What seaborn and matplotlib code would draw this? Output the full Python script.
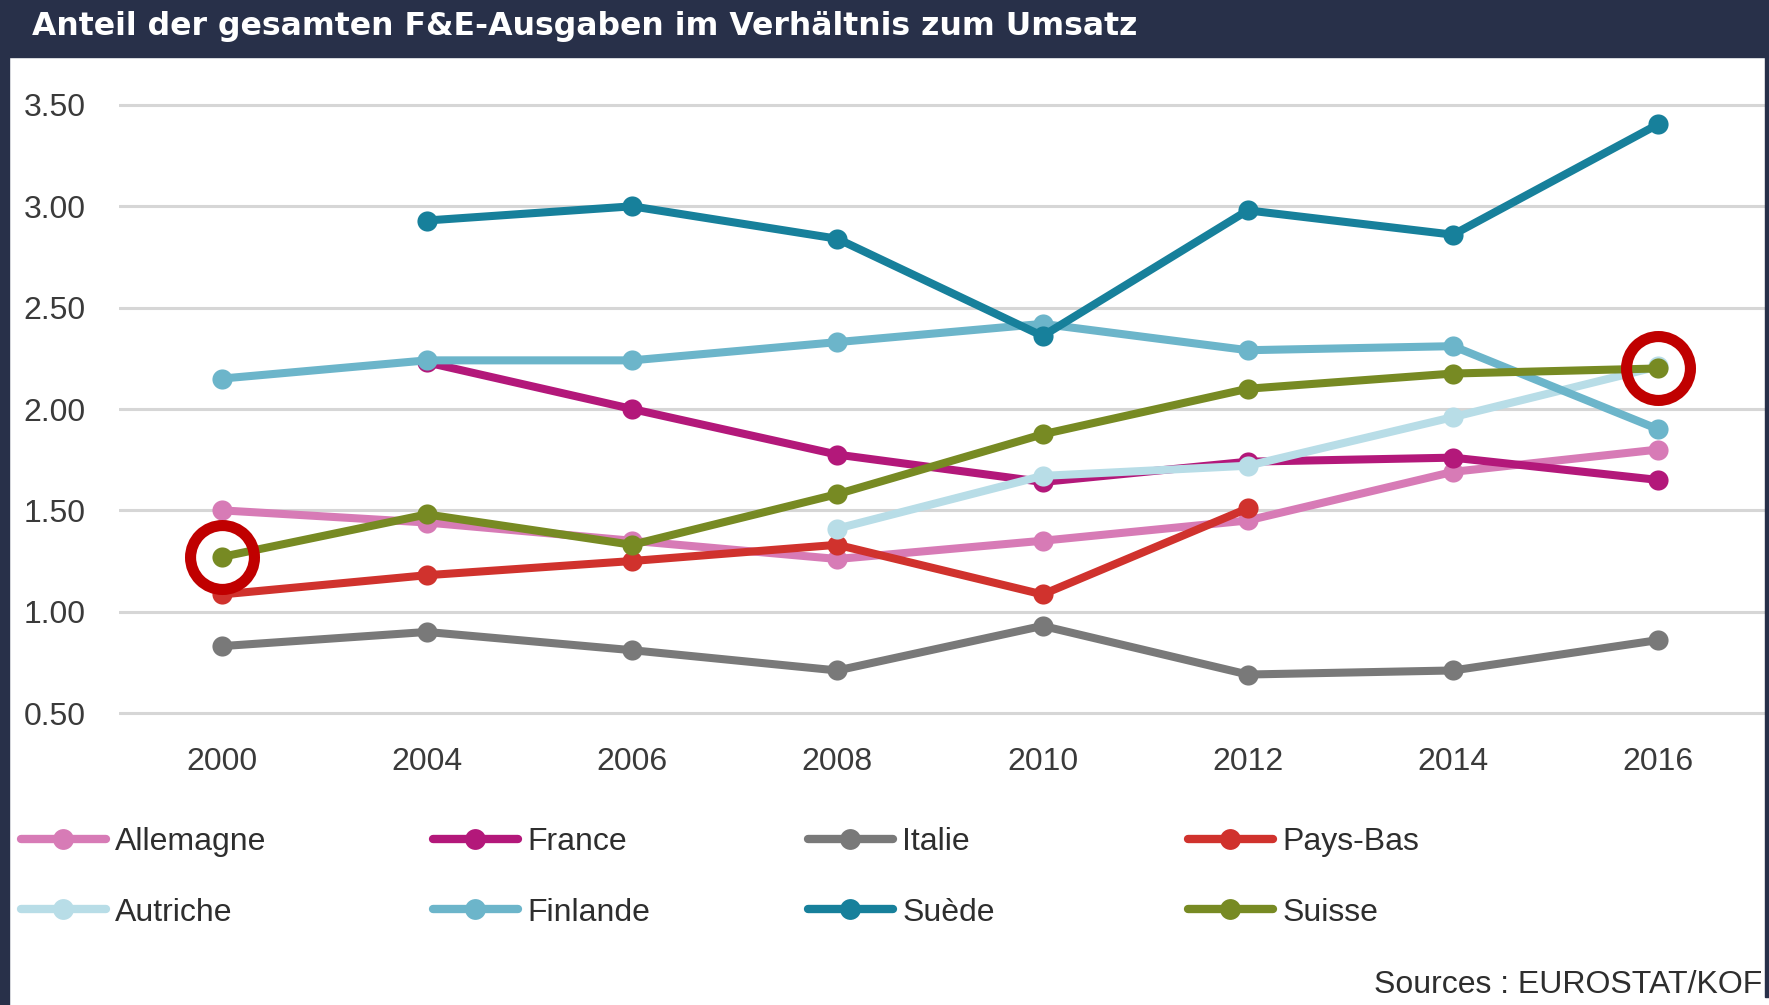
import numpy as np
import pandas as pd
import matplotlib
matplotlib.use('Agg')
import matplotlib.pyplot as plt
import seaborn as sns
from matplotlib.lines import Line2D
from matplotlib.patches import Rectangle

years = ['2000', '2004', '2006', '2008', '2010', '2012', '2014', '2016']

allemagne = [1.50, 1.44, 1.35, 1.26, 1.35, 1.45, 1.69, 1.80]
france = [np.nan, 2.23, 2.00, 1.775, 1.64, 1.74, 1.76, 1.65]
italie = [0.83, 0.90, 0.81, 0.71, 0.93, 0.69, 0.71, 0.86]
pays_bas = [1.085, 1.18, 1.25, 1.33, 1.085, 1.51, np.nan, np.nan]
autriche = [np.nan, np.nan, np.nan, 1.41, 1.67, 1.72, 1.96, 2.21]
finlande = [2.15, 2.24, 2.24, 2.33, 2.42, 2.29, 2.31, 1.90]
suede = [np.nan, 2.93, 3.00, 2.84, 2.36, 2.98, 2.86, 3.405]
suisse = [1.27, 1.48, 1.33, 1.58, 1.875, 2.10, 2.175, 2.20]

countries = ['Allemagne', 'France', 'Italie', 'Pays-Bas',
             'Autriche', 'Finlande', 'Suède', 'Suisse']
series = [allemagne, france, italie, pays_bas, autriche, finlande, suede, suisse]
colors = ['#d77bb6', '#b3187a', '#797979', '#d0322d',
          '#b8dde7', '#6cb5ca', '#17809b', '#778a23']

title = 'Anteil der gesamten F&E-Ausgaben im Verhältnis zum Umsatz'
source = 'Sources : EUROSTAT/KOF'

sns.set_style('white')
plt.rcParams['font.family'] = ['Liberation Sans', 'DejaVu Sans']

W, H = 1769, 1005
fig = plt.figure(figsize=(W / 100, H / 100), dpi=100)
fig.patch.set_facecolor('white')

# header bar + dark left/right edges
navy = '#283049'
fig.patches.append(Rectangle((0, 1 - 57 / H), 1, 57 / H, transform=fig.transFigure,
                             color=navy, zorder=0))
fig.patches.append(Rectangle((0, 0), 9 / W, 1, transform=fig.transFigure,
                             color=navy, zorder=0))
fig.patches.append(Rectangle((1 - 4 / W, 8 / H), 4 / W, 1, transform=fig.transFigure,
                             color=navy, zorder=0))
fig.text(32 / W, 1 - 26 / H, title, color='white', fontsize=22.7, fontweight='bold',
         family=['DejaVu Sans'], va='center', ha='left')

ax = fig.add_axes([119 / W, 1 - 733.3 / H, (1765 - 119) / W, (733.3 - 84.7) / H])
ax.set_facecolor('none')

for i, (name, vals, col) in enumerate(zip(countries, series, colors)):
    df = pd.DataFrame({'year': years, 'value': vals}).dropna()
    sns.lineplot(data=df, x='year', y='value', ax=ax, color=col, linewidth=5.8,
                 marker='o', markersize=14.5, markeredgewidth=0, sort=False,
                 zorder=3 + i)

# red highlight rings on Suisse, first and last year
ax.plot([years[0], years[-1]], [suisse[0], suisse[-1]], linestyle='none', marker='o',
        markersize=46, markerfacecolor='none', markeredgecolor='#c00000',
        markeredgewidth=8, zorder=20, clip_on=False)

ax.set_xlim(-0.5, 7.52)
ax.set_ylim(0.4, 3.6)
ax.set_yticks([0.5, 1.0, 1.5, 2.0, 2.5, 3.0, 3.5])
ax.set_yticklabels(['%.2f' % v for v in ax.get_yticks()])
ax.yaxis.grid(True, color='#d6d6d6', linewidth=2.2)
ax.xaxis.grid(False)
for s in ax.spines.values():
    s.set_visible(False)
ax.tick_params(axis='y', length=0, pad=24, labelsize=23, labelcolor='#3a3a3a')
ax.tick_params(axis='x', length=0, pad=10, labelsize=23, labelcolor='#3a3a3a')
ax.set_xlabel('')
ax.set_ylabel('')
ax.set_axisbelow(True)
if ax.get_legend() is not None:
    ax.get_legend().remove()

handles = [Line2D([], [], color=c, linewidth=6, marker='o', markersize=15,
                  markeredgewidth=0) for c in colors]
col_x = [21, 433, 808, 1188]
for j in range(4):
    fig.legend([handles[j], handles[j + 4]], [countries[j], countries[j + 4]],
               loc='upper left', bbox_to_anchor=(col_x[j] / W, 1 - 827 / H),
               frameon=False, fontsize=23, handlelength=2.65, handletextpad=0.3,
               labelspacing=1.27, borderpad=0, borderaxespad=0,
               labelcolor='#2e2e2e')

fig.text(1762 / W, 1 - 985 / H, source, ha='right', va='center', fontsize=23,
         color='#2e2e2e')

fig.savefig('out.png', dpi=100)
